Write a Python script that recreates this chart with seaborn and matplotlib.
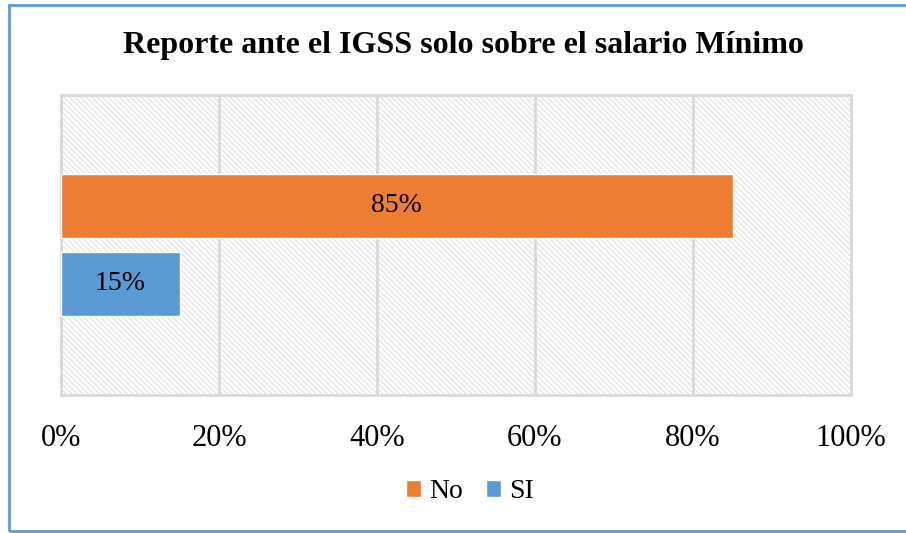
import matplotlib
matplotlib.use("Agg")
import matplotlib.pyplot as plt
import matplotlib.patches as mpatches
import seaborn as sns
import pandas as pd

title = "Reporte ante el IGSS solo sobre el salario Mínimo"
category = ["Reporte"]
series = ["No", "SI"]
values = [85, 15]
colors = ["#ED7D31", "#5B9BD5"]
xticks = [0, 20, 40, 60, 80, 100]
xtick_labels = ["0%", "20%", "40%", "60%", "80%", "100%"]

df = pd.DataFrame({"cat": category * len(series), "serie": series, "val": values})

sns.set_theme(style="white")
plt.rcParams["font.family"] = ["Liberation Serif", "DejaVu Serif"]
plt.rcParams["text.color"] = "black"
plt.rcParams["xtick.color"] = "black"
plt.rcParams["hatch.linewidth"] = 0.7

fig = plt.figure(figsize=(9.06, 5.33), dpi=100)
ax = fig.add_axes([61/906, 1-395/533, 790/906, 300/533])

ax.patch.set_facecolor("white")
ax.patch.set_hatch("\\\\\\\\\\\\")
ax.patch.set_edgecolor("#dcdcdc")

sns.barplot(data=df, y="cat", x="val", hue="serie", hue_order=series,
            palette=colors, saturation=1, orient="h", width=0.52, gap=0.18,
            ax=ax, legend=True, zorder=3)

for cont in ax.containers:
    ax.bar_label(cont, labels=[f"{v:.0f}%" for v in cont.datavalues],
                 label_type="center", fontsize=20, color="black")

ax.set_xlim(0, 100)
ax.set_ylim(0.5, -0.5)
ax.set_xticks(xticks)
ax.set_xticklabels(xtick_labels, fontsize=22, color="black")
ax.tick_params(axis="x", length=0, pad=21)
ax.set_yticks([])
ax.set_xlabel("")
ax.set_ylabel("")
ax.grid(axis="x", color="#d9d9d9", linewidth=2)
ax.set_axisbelow(True)
for s in ax.spines.values():
    s.set_color("#d9d9d9")
    s.set_linewidth(2)

leg = ax.legend(loc="center", bbox_to_anchor=(470/906, 1-492/533),
                bbox_transform=fig.transFigure, ncol=2, frameon=False,
                fontsize=20, handlelength=0.55, handleheight=0.55,
                handletextpad=0.3, columnspacing=0.8)
for t in leg.get_texts():
    t.set_color("black")

fig.text(463/906, 1-46/533, title, ha="center", va="center",
         fontsize=23, fontweight="bold", color="black")

fig.patches.append(mpatches.Rectangle((9/906, 2/533), 1.0, 1-7/533,
                                      transform=fig.transFigure, fill=False,
                                      edgecolor="#5B9BD5", linewidth=2))

fig.savefig("out.png", dpi=100)
